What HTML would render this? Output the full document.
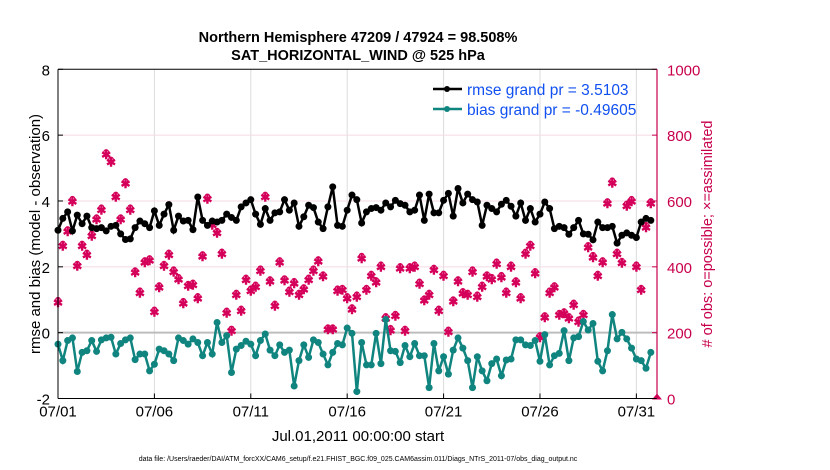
<!DOCTYPE html>
<html><head><meta charset="utf-8"><style>
body{margin:0;background:#fff;}
svg{display:block;font-family:"Liberation Sans",Arial,sans-serif;}
</style></head><body>
<svg id="chart" width="830" height="470">
<text x="358" y="42" text-anchor="middle" font-size="14.5" font-weight="bold">Northern Hemisphere 47209 / 47924 = 98.508%</text>
<text x="358" y="60" text-anchor="middle" font-size="14.5" font-weight="bold">SAT_HORIZONTAL_WIND @ 525 hPa</text>
<g id="grid"></g>
<g id="marks"></g>
<g id="axes"></g>
<text transform="translate(40,234) rotate(-90)" text-anchor="middle" font-size="15">rmse and bias (model - observation)</text>
<text transform="translate(712,234) rotate(-90)" text-anchor="middle" font-size="14.5" fill="#c8004c"># of obs: o=possible; ×=assimilated</text>
<text x="358" y="441" text-anchor="middle" font-size="15">Jul.01,2011 00:00:00 start</text>
<text x="358" y="461" text-anchor="middle" font-size="7">data file: /Users/raeder/DAI/ATM_forcXX/CAM6_setup/f.e21.FHIST_BGC.f09_025.CAM6assim.011/Diags_NTrS_2011-07/obs_diag_output.nc</text>
<g>
<line x1="433" y1="89" x2="462" y2="89" stroke="#000" stroke-width="2.5"/>
<circle cx="447" cy="89" r="3" fill="#000"/>
<text x="467" y="95" font-size="15.5" fill="#1150f0">rmse grand pr = 3.5103</text>
<line x1="433" y1="109" x2="462" y2="109" stroke="#10847f" stroke-width="2.5"/>
<circle cx="447" cy="109" r="3" fill="#10847f"/>
<text x="467" y="115" font-size="15.5" fill="#1150f0">bias grand pr = -0.49605</text>
</g>
</svg>
<script>
const rmse=[3.11,3.47,3.67,3.09,3.57,3.31,3.54,3.19,3.16,3.19,3.09,3.23,3.26,3.0,2.83,2.85,3.19,3.39,3.31,3.19,3.7,3.26,3.6,3.89,3.11,3.54,3.39,3.41,3.13,4.12,3.41,3.26,
3.39,3.36,3.41,3.6,3.5,3.41,3.82,3.94,4.04,3.6,3.29,3.77,3.41,3.64,3.67,4.04,3.72,3.94,3.23,3.52,3.87,3.8,3.36,3.16,3.82,4.43,3.26,3.23,3.72,4.18,4.04,
3.33,3.67,3.77,3.8,3.72,3.94,3.82,4.02,3.92,3.87,3.67,3.72,4.18,3.41,4.21,3.64,3.64,4.02,4.23,3.54,4.38,3.94,4.21,4.04,3.97,3.26,3.87,3.77,3.67,3.9,4.02,
3.84,3.54,3.94,3.41,3.77,3.36,3.6,3.97,3.77,3.16,3.23,3.19,2.99,3.19,3.41,3.0,2.99,2.82,3.36,3.19,3.19,3.23,2.72,2.96,3.03,2.96,2.89,3.36,3.47,3.41];
const bias=[-0.35,-0.85,-0.24,-0.16,-1.18,-0.6,-0.55,-0.24,-0.57,-0.22,-0.16,-0.14,-0.65,-0.33,-0.22,-0.16,-0.82,-0.65,-0.65,-1.16,-0.96,-0.5,-0.55,-0.65,-0.85,-0.16,-0.24,-0.35,-0.19,-0.3,-0.7,-0.3,
-0.65,0.31,-0.3,-0.09,-1.21,-0.5,-0.39,-0.26,-0.35,-0.7,-0.24,-0.04,-0.53,-0.7,-0.37,-0.6,-0.53,-1.62,-0.85,-0.37,-0.75,-0.22,-0.3,-0.65,-0.98,-0.6,-0.33,-0.37,0.14,-0.02,-1.79,
-0.3,-0.98,-0.98,-0.02,-0.94,0.4,-0.55,-0.57,-0.91,-0.39,-0.73,-0.33,-0.7,-0.7,-1.67,-0.33,-1.16,-0.73,-1.26,-0.53,-0.16,-0.47,-0.85,-1.67,-0.73,-1.16,-1.46,-0.94,-0.8,-1.31,-0.83,
-0.8,-0.22,-0.22,-0.37,-0.39,-0.24,-0.87,-0.06,-0.98,-0.7,-0.63,0.06,-0.85,-0.16,-0.12,0.34,0.08,0.28,-0.87,-1.16,-0.55,0.55,-0.19,0.01,-0.19,-0.47,-0.8,-0.85,-1.08,-0.6];
const nAssim=[292,463,507,599,402,463,436,494,543,573,741,718,612,543,653,573,382,321,413,419,263,337,402,436,385,362,289,341,345,304,431,606,
527,502,439,260,205,314,266,360,327,339,388,612,355,281,413,358,324,350,314,331,360,388,416,370,209,209,327,329,304,270,309,
426,329,372,352,400,243,207,250,395,205,395,400,348,297,314,390,266,372,202,294,355,319,314,385,309,339,370,362,409,368,321,
400,352,304,439,463,380,185,246,321,337,253,258,243,284,233,253,459,429,372,413,592,655,439,411,585,599,400,329,520,592];
const dayTicks=[0,5,10,15,20,25,30];
const dayLabels=["07/01","07/06","07/11","07/16","07/21","07/26","07/31"];
const leftTicks=[-2,0,2,4,6,8];
const rightTicks=[0,200,400,600,800,1000];
const NS="http://www.w3.org/2000/svg";
const X0=58,X1=657,Y0=69.3,Y1=398.5;
const xS=d=>X0+(d/31.07)*(X1-X0);
const yL=v=>Y1-(v+2)/10*(Y1-Y0);
const yR=v=>Y1-v/1000*(Y1-Y0);
function mk(tag,attrs,parent){const e=document.createElementNS(NS,tag);for(const k in attrs)e.setAttribute(k,attrs[k]);parent.appendChild(e);return e;}
const grid=document.getElementById('grid'),marks=document.getElementById('marks'),axes=document.getElementById('axes');
dayTicks.forEach((d,i)=>{
  const l=mk('line',{x1:xS(d),x2:xS(d),y1:Y0,y2:Y1,stroke:'#dcdcdc','stroke-width':1},grid);
  
  
  const t=mk('text',{x:xS(d),y:Y1+18,'text-anchor':'middle','font-size':15},axes);
  t.textContent=dayLabels[i];
  
  
  mk('line',{x1:xS(d),x2:xS(d),y1:Y1,y2:Y1-5,stroke:'#000'},axes);
});
rightTicks.forEach(v=>{
  if(v>0&&v<1000){const l=mk('line',{x1:X0,x2:X1,y1:yR(v),y2:yR(v),stroke:'#f3dbe3','stroke-width':1},grid);
  
  }
  const t=mk('text',{x:X1+10,y:yR(v)+6,'font-size':15,fill:'#c8004c'},axes);
  t.textContent=v;
  
  
  mk('line',{x1:X1,x2:X1-5,y1:yR(v),y2:yR(v),stroke:'#c8004c'},axes);
});
leftTicks.forEach(v=>{
  const t=mk('text',{x:X0-8,y:yL(v)+6,'text-anchor':'end','font-size':15},axes);
  t.textContent=v;
  
  
  mk('line',{x1:X0,x2:X0+5,y1:yL(v),y2:yL(v),stroke:'#000'},axes);
});
const zl=mk('line',{x1:X0,x2:X1,y1:yL(0),y2:yL(0),stroke:'#bdbdbd','stroke-width':2},grid);


nAssim.forEach((v,i)=>{
  const x=xS(i/4),y=yR(v);
  const g=mk('g',{},marks);
  
  
  mk('circle',{cx:x,cy:y-2.5,r:2.3,fill:'none',stroke:'#d4005a','stroke-width':1.3},g);
  mk('text',{x:x,y:y+4.5,'text-anchor':'middle','font-size':12,'font-weight':'bold',fill:'#d4005a'},g).textContent='✱';
});
function series(vals,color,name){
  const pts=vals.map((v,i)=>xS(i/4)+','+yL(v)).join(' ');
  const p=mk('polyline',{points:pts,fill:'none',stroke:color,'stroke-width':2.5},marks);
  
  
  vals.forEach((v,i)=>{
    const c=mk('circle',{cx:xS(i/4),cy:yL(v),r:3.5,fill:color},marks);
    
    
  });
}
series(rmse,'#000','rmse');
series(bias,'#10847f','bias');
const lastMarker=mk('path',{d:`M${X1-5},${Y1+1} L${X1},${Y1-5} L${X1+5},${Y1+1} Z`,fill:'#d4005a'},marks);


mk('line',{x1:X0,x2:X0,y1:Y0,y2:Y1,stroke:'#000','stroke-width':1},axes);
mk('line',{x1:X0,x2:X1,y1:Y1,y2:Y1,stroke:'#000','stroke-width':1},axes);
mk('line',{x1:X0,x2:X1,y1:Y0,y2:Y0,stroke:'#000','stroke-width':1},axes);
mk('line',{x1:X1,x2:X1,y1:Y0,y2:Y1,stroke:'#c8004c','stroke-width':1.2},axes);
</script>
</body></html>
